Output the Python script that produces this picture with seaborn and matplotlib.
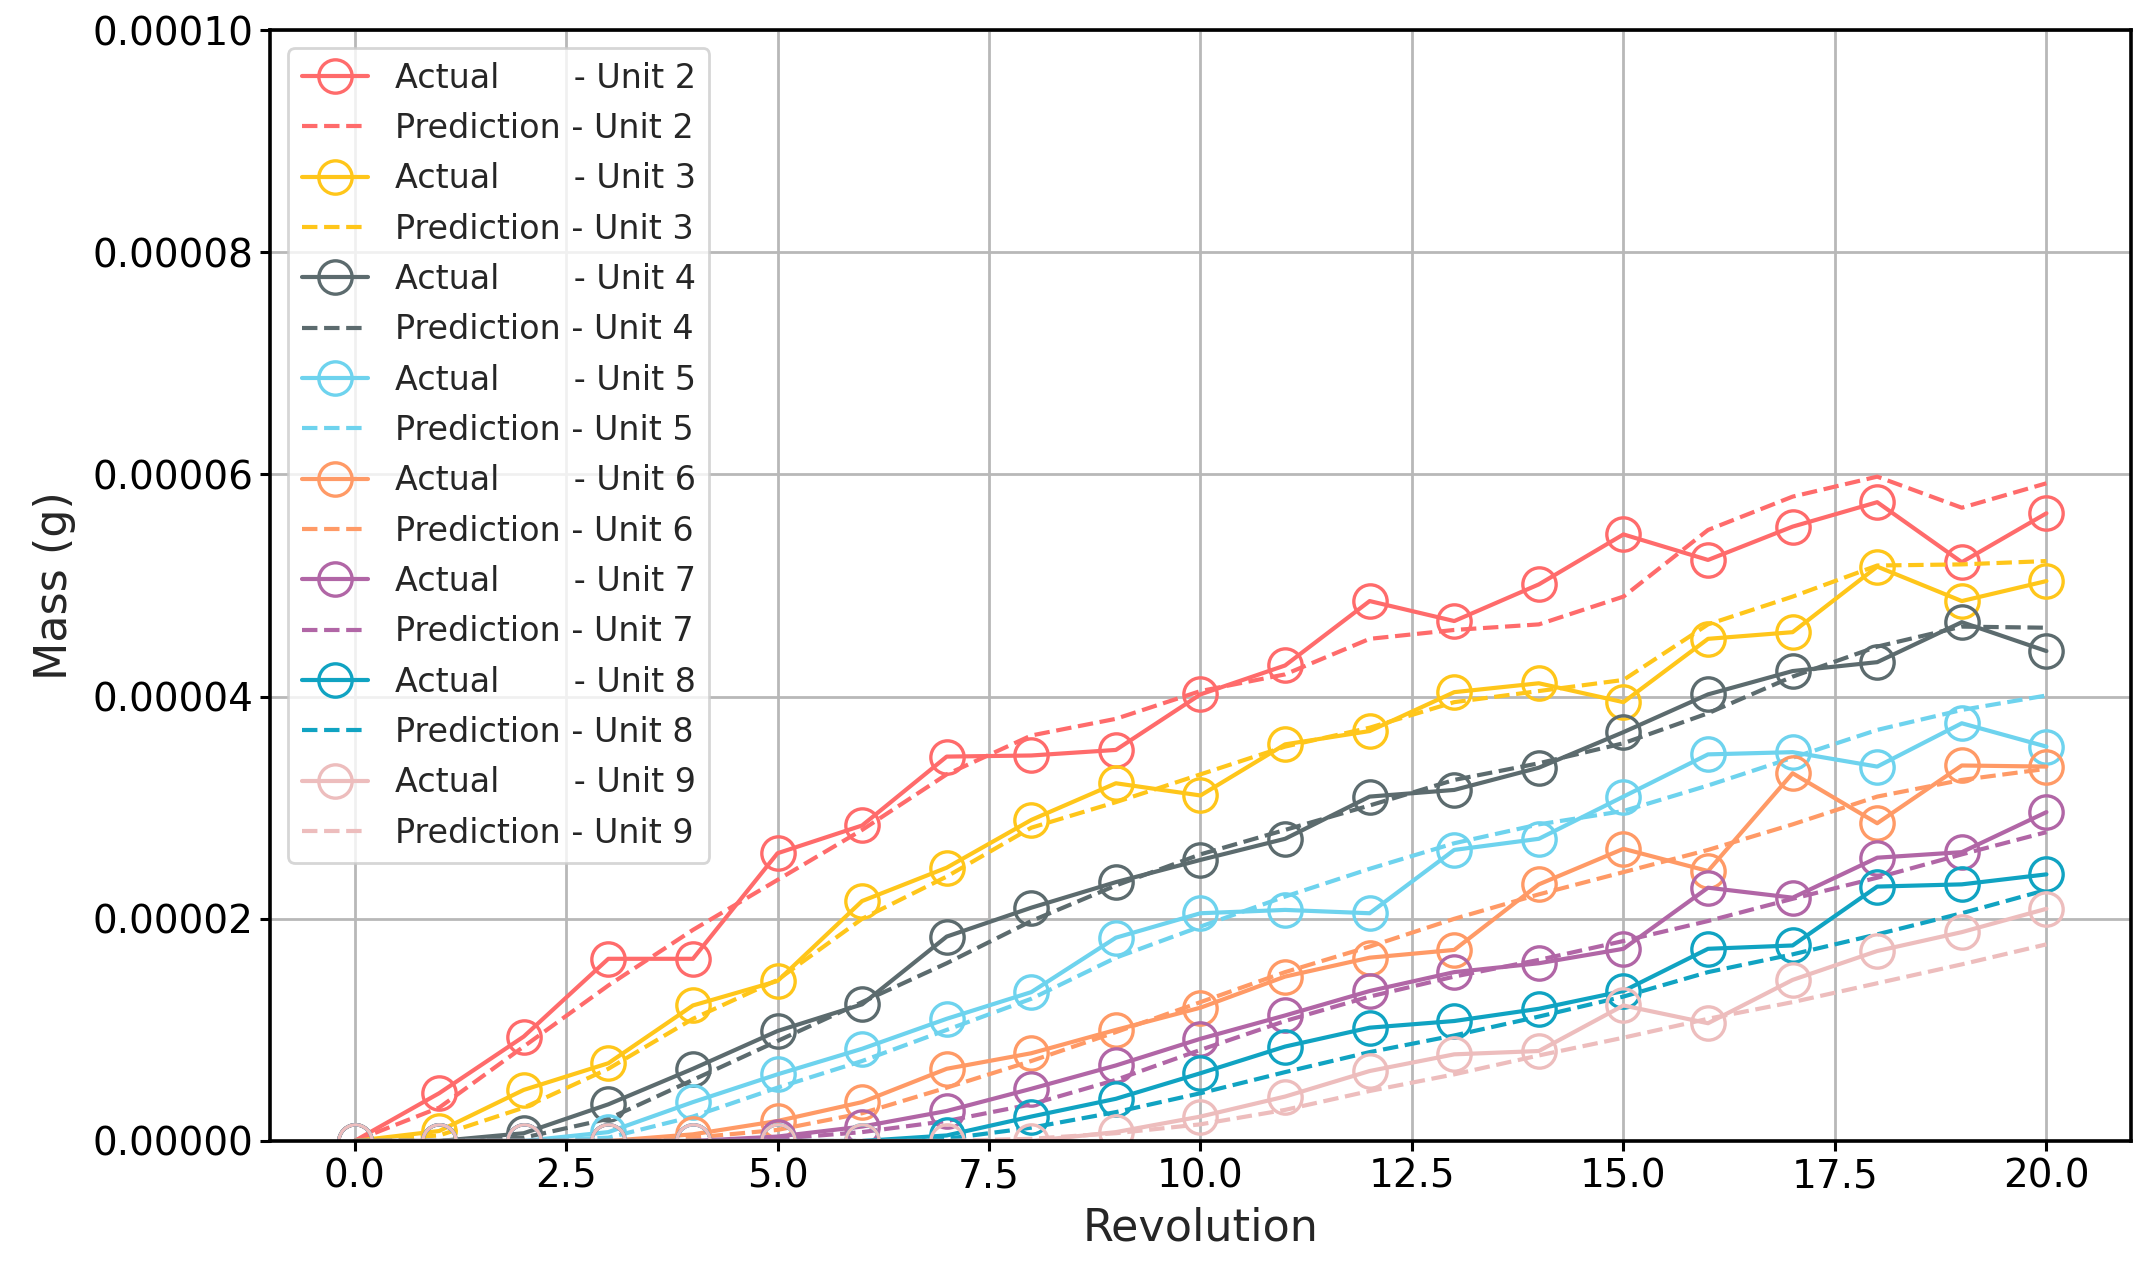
import numpy as np
import pandas as pd
import matplotlib
matplotlib.use("Agg")
import matplotlib.pyplot as plt
import seaborn as sns

# revolution axis
revolution = list(range(21))

# units and colours
units = [2, 3, 4, 5, 6, 7, 8, 9]
colors = ['#ff6b6b', '#ffc61a', '#5c6b6e', '#6ed3ee',
          '#ff9a66', '#b166a6', '#10a3c2', '#edbdbd']

# actual mass (g)
actual_u2 = [0, 4.3e-6, 9.4e-6, 1.64e-5, 1.64e-5, 2.59e-5, 2.84e-5, 3.46e-5, 3.47e-5, 3.52e-5,
             4.02e-5, 4.28e-5, 4.86e-5, 4.68e-5, 5.01e-5, 5.46e-5, 5.23e-5, 5.53e-5, 5.75e-5, 5.21e-5, 5.65e-5]
actual_u3 = [0, 9e-7, 4.6e-6, 7.0e-6, 1.22e-5, 1.44e-5, 2.16e-5, 2.46e-5, 2.89e-5, 3.22e-5,
             3.11e-5, 3.57e-5, 3.69e-5, 4.04e-5, 4.12e-5, 3.95e-5, 4.52e-5, 4.58e-5, 5.17e-5, 4.86e-5, 5.04e-5]
actual_u4 = [0, 0, 7e-7, 3.3e-6, 6.5e-6, 9.9e-6, 1.23e-5, 1.84e-5, 2.10e-5, 2.33e-5,
             2.53e-5, 2.72e-5, 3.10e-5, 3.16e-5, 3.36e-5, 3.68e-5, 4.02e-5, 4.23e-5, 4.31e-5, 4.67e-5, 4.41e-5]
actual_u5 = [0, 0, 0, 8e-7, 3.5e-6, 6.0e-6, 8.3e-6, 1.10e-5, 1.34e-5, 1.83e-5,
             2.05e-5, 2.08e-5, 2.05e-5, 2.62e-5, 2.72e-5, 3.10e-5, 3.48e-5, 3.50e-5, 3.37e-5, 3.76e-5, 3.55e-5]
actual_u6 = [0, 0, 0, 0, 6e-7, 1.8e-6, 3.5e-6, 6.5e-6, 7.9e-6, 1.00e-5,
             1.20e-5, 1.48e-5, 1.65e-5, 1.72e-5, 2.31e-5, 2.63e-5, 2.43e-5, 3.31e-5, 2.86e-5, 3.38e-5, 3.37e-5]
actual_u7 = [0, 0, 0, 0, 0, 4e-7, 1.3e-6, 2.7e-6, 4.7e-6, 6.8e-6,
             9.2e-6, 1.13e-5, 1.35e-5, 1.52e-5, 1.60e-5, 1.73e-5, 2.28e-5, 2.19e-5, 2.55e-5, 2.60e-5, 2.96e-5]
actual_u8 = [0, 0, 0, 0, 0, 0, 0, 5e-7, 2.2e-6, 3.8e-6,
             6.1e-6, 8.5e-6, 1.02e-5, 1.08e-5, 1.19e-5, 1.35e-5, 1.73e-5, 1.76e-5, 2.29e-5, 2.31e-5, 2.40e-5]
actual_u9 = [0, 0, 0, 0, 0, 0, 0, 0, 0, 8e-7,
             2.2e-6, 4.0e-6, 6.3e-6, 7.8e-6, 8.1e-6, 1.22e-5, 1.06e-5, 1.45e-5, 1.71e-5, 1.88e-5, 2.09e-5]

# predicted mass (g)
pred_u2 = [0, 3.0e-6, 8.5e-6, 1.40e-5, 1.90e-5, 2.35e-5, 2.80e-5, 3.30e-5, 3.65e-5, 3.80e-5,
           4.05e-5, 4.20e-5, 4.52e-5, 4.60e-5, 4.65e-5, 4.90e-5, 5.50e-5, 5.80e-5, 5.98e-5, 5.70e-5, 5.92e-5]
pred_u3 = [0, 5e-7, 3.0e-6, 6.5e-6, 1.10e-5, 1.45e-5, 2.00e-5, 2.38e-5, 2.82e-5, 3.05e-5,
           3.30e-5, 3.55e-5, 3.72e-5, 3.95e-5, 4.05e-5, 4.15e-5, 4.65e-5, 4.90e-5, 5.18e-5, 5.19e-5, 5.22e-5]
pred_u4 = [0, 0, 3e-7, 2.0e-6, 5.5e-6, 9.0e-6, 1.25e-5, 1.60e-5, 1.98e-5, 2.30e-5,
           2.58e-5, 2.80e-5, 3.02e-5, 3.25e-5, 3.40e-5, 3.58e-5, 3.85e-5, 4.18e-5, 4.45e-5, 4.63e-5, 4.62e-5]
pred_u5 = [0, 0, 0, 3e-7, 2.2e-6, 4.8e-6, 7.2e-6, 1.00e-5, 1.28e-5, 1.65e-5,
           1.93e-5, 2.20e-5, 2.45e-5, 2.68e-5, 2.85e-5, 2.97e-5, 3.20e-5, 3.45e-5, 3.70e-5, 3.88e-5, 4.01e-5]
pred_u6 = [0, 0, 0, 0, 3e-7, 1.0e-6, 2.5e-6, 4.8e-6, 7.2e-6, 9.8e-6,
           1.25e-5, 1.52e-5, 1.75e-5, 2.00e-5, 2.22e-5, 2.42e-5, 2.62e-5, 2.85e-5, 3.10e-5, 3.25e-5, 3.35e-5]
pred_u7 = [0, 0, 0, 0, 0, 2e-7, 8e-7, 1.8e-6, 3.3e-6, 5.5e-6,
           8.2e-6, 1.08e-5, 1.30e-5, 1.48e-5, 1.63e-5, 1.80e-5, 1.98e-5, 2.18e-5, 2.37e-5, 2.58e-5, 2.78e-5]
pred_u8 = [0, 0, 0, 0, 0, 0, 0, 2e-7, 1.2e-6, 2.6e-6,
           4.3e-6, 6.2e-6, 8.0e-6, 9.5e-6, 1.12e-5, 1.30e-5, 1.52e-5, 1.68e-5, 1.86e-5, 2.05e-5, 2.26e-5]
pred_u9 = [0, 0, 0, 0, 0, 0, 0, 0, 2e-7, 7e-7,
           1.5e-6, 2.8e-6, 4.5e-6, 6.0e-6, 7.7e-6, 9.3e-6, 1.10e-5, 1.25e-5, 1.42e-5, 1.59e-5, 1.77e-5]

actual = [actual_u2, actual_u3, actual_u4, actual_u5, actual_u6, actual_u7, actual_u8, actual_u9]
pred = [pred_u2, pred_u3, pred_u4, pred_u5, pred_u6, pred_u7, pred_u8, pred_u9]

sns.set_style("ticks")
plt.rcParams['font.family'] = ['DejaVu Sans']

fig = plt.figure(figsize=(10.755, 6.385), dpi=200)
ax = fig.add_axes([0.1255, 0.1065, 0.8652, 0.87])

for unit, c, a, p in zip(units, colors, actual, pred):
    sns.lineplot(x=revolution, y=a, ax=ax, color=c, linewidth=1.5,
                 marker='o', markersize=12, markerfacecolor='none',
                 markeredgecolor=c, markeredgewidth=1.2,
                 label=f'Actual       - Unit {unit}', legend=False)
    sns.lineplot(x=revolution, y=p, ax=ax, color=c, linewidth=1.5,
                 linestyle='--', label=f'Prediction - Unit {unit}', legend=False)

ax.set_xlim(-1, 21)
ax.set_ylim(0, 0.0001)
ax.set_xticks(np.arange(0, 20.1, 2.5))
ax.set_yticks(np.arange(0, 0.000101, 0.00002))
ax.yaxis.set_major_formatter(matplotlib.ticker.FormatStrFormatter('%.5f'))
ax.grid(True, color='#b8b8b8', linewidth=1.0)
ax.tick_params(labelsize=14, colors='black', width=1.1, pad=2.5)
for s in ax.spines.values():
    s.set_color('black')
    s.set_linewidth(1.3)
ax.set_xlabel('Revolution', fontsize=16)
ax.set_ylabel('Mass (g)', fontsize=16, labelpad=6)

ax.legend(loc='upper left', fontsize=12, framealpha=0.8,
          labelspacing=0.52, borderaxespad=0.55)

fig.savefig('out.png', dpi=200)
